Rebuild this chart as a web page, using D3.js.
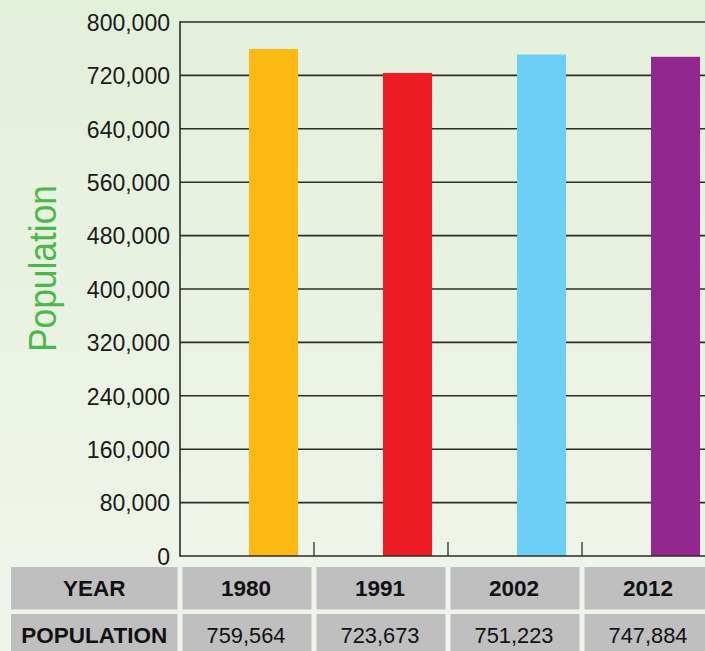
<!DOCTYPE html>
<html>
<head>
<meta charset="utf-8">
<script src="https://cdn.jsdelivr.net/npm/d3@7"></script>
<style>
html,body{margin:0;padding:0;overflow:hidden;background:#eaf3e3;}
svg{display:block;}
text{font-family:"Liberation Sans",Arial,Helvetica,sans-serif;}
</style>
</head>
<body>
<svg id="chart" width="705" height="651"></svg>
<script>
const years = ["1980", "1991", "2002", "2012"];
const population = [759564, 723673, 751223, 747884];
const barColors = ["#fdb913", "#ed1c24", "#6dcff6", "#92278f"];
const yTicks = [0, 80000, 160000, 240000, 320000, 400000, 480000, 560000, 640000, 720000, 800000];
const rowLabels = ["YEAR", "POPULATION"];
const yTitle = "Population";

const svg = d3.select("#chart");
const W = 705, H = 651;
const m = {left: 180, top: 22, bottom: 556};

const defs = svg.append("defs");
const grad = defs.append("linearGradient").attr("id","bg").attr("x1",0).attr("y1",0).attr("x2",0).attr("y2",1);
grad.append("stop").attr("offset","0%").attr("stop-color","#e3f0da");
grad.append("stop").attr("offset","100%").attr("stop-color","#f0f5eb");
svg.append("rect").attr("width",W).attr("height",H).attr("fill","url(#bg)");

const x = d3.scaleBand().domain(years).range([m.left, m.left + 536]).padding(0);
const y = d3.scaleLinear().domain([0, 800000]).range([m.bottom, m.top]);
const bw = x.bandwidth();

// gridlines
svg.append("g").selectAll("line").data(yTicks.filter(t => t > 0)).join("line")
  .attr("x1", m.left).attr("x2", m.left + 536)
  .attr("y1", d => y(d)).attr("y2", d => y(d))
  .attr("stroke", "#2d2d2a").attr("stroke-width", 1.6);

// y axis labels
const yAxis = d3.axisLeft(y).tickValues(yTicks).tickSize(0).tickPadding(10).tickFormat(d3.format(","));
const gy = svg.append("g").attr("transform", `translate(${m.left},0)`).call(yAxis);
gy.select(".domain").remove();
gy.selectAll("text").attr("font-size", 23).attr("fill", "#1a1a1a")
  .attr("font-family", "Liberation Sans, Arial, sans-serif").attr("dy", "0.36em");

// bars
svg.append("g").selectAll("rect").data(years).join("rect")
  .attr("x", d => x(d) + bw * 0.515)
  .attr("width", bw * 0.366)
  .attr("y", (d, i) => y(population[i]))
  .attr("height", (d, i) => y(0) - y(population[i]))
  .attr("fill", (d, i) => barColors[i]);

// axes lines
svg.append("line").attr("x1", m.left).attr("x2", m.left).attr("y1", y(800000) - 0.8).attr("y2", m.bottom + 0.8)
  .attr("stroke", "#2d2d2a").attr("stroke-width", 1.6);
svg.append("line").attr("x1", m.left).attr("x2", m.left + 536).attr("y1", m.bottom).attr("y2", m.bottom)
  .attr("stroke", "#2d2d2a").attr("stroke-width", 1.6);
// x ticks at band boundaries
svg.append("g").selectAll("line").data(years.slice(1).concat(["end"])).join("line")
  .attr("x1", d => d === "end" ? m.left + 536 : x(d)).attr("x2", d => d === "end" ? m.left + 536 : x(d))
  .attr("y1", m.bottom).attr("y2", m.bottom - 14)
  .attr("stroke", "#2d2d2a").attr("stroke-width", 1.3);

// y title
svg.append("text")
  .attr("transform", `translate(56,268.5) rotate(-90)`)
  .attr("text-anchor", "middle")
  .attr("font-family", "Roboto, 'Open Sans', sans-serif")
  .attr("font-weight", 300)
  .attr("font-size", 38)
  .attr("textLength", 167)
  .attr("lengthAdjust", "spacingAndGlyphs")
  .attr("fill", "#4cb84b")
  .text(yTitle);

// table
const rowTop = [567, 614];
const rowH = 42.5;
const tbl = svg.append("g");
rowLabels.forEach((lab, r) => {
  tbl.append("rect").attr("x", 11).attr("y", rowTop[r]).attr("width", m.left - 2.5 - 11).attr("height", rowH).attr("fill", "#bfbfbf");
  tbl.append("text").attr("x", (11 + m.left - 2.5) / 2).attr("y", rowTop[r] + rowH / 2).attr("dy", "0.36em")
    .attr("text-anchor", "middle").attr("font-size", 22.5).attr("font-weight", "bold").attr("fill", "#111").text(lab);
  years.forEach((yr, i) => {
    tbl.append("rect").attr("x", x(yr) + 2.5).attr("y", rowTop[r]).attr("width", bw - 5).attr("height", rowH).attr("fill", "#bfbfbf");
    tbl.append("text").attr("x", x(yr) + bw / 2 - 1).attr("y", rowTop[r] + rowH / 2).attr("dy", "0.36em")
      .attr("text-anchor", "middle").attr("font-size", r === 0 ? 22.5 : 21.8)
      .attr("font-weight", r === 0 ? "bold" : "normal").attr("fill", "#111")
      .text(r === 0 ? yr : d3.format(",")(population[i]));
  });
});
</script>
</body>
</html>
